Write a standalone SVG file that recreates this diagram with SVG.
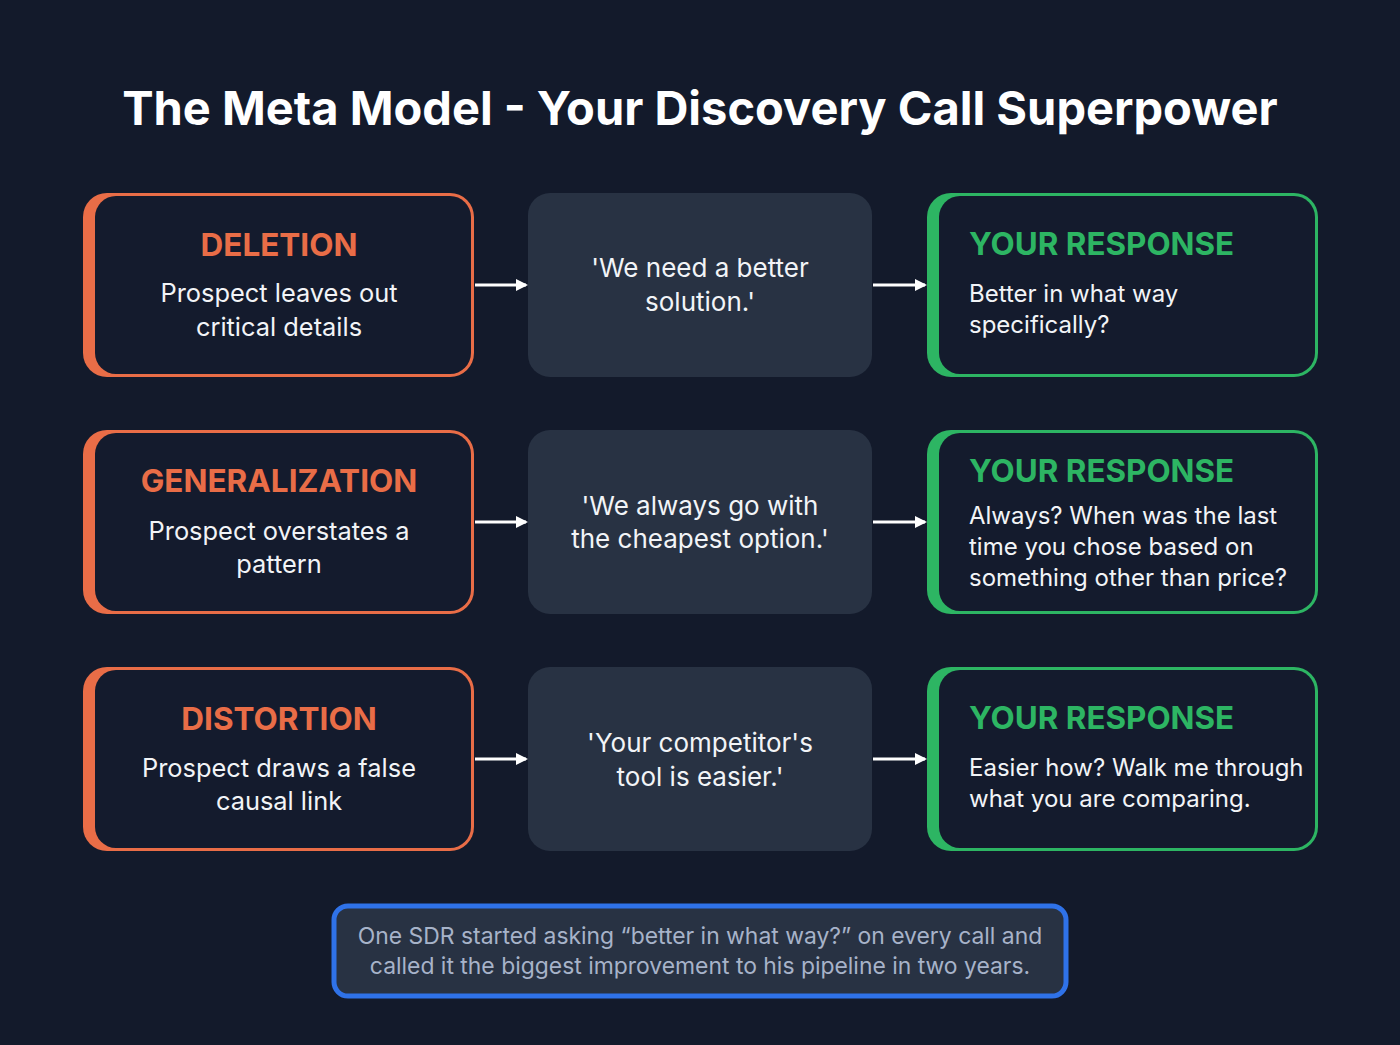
<svg xmlns="http://www.w3.org/2000/svg" width="1400" height="1045" viewBox="0 0 1400 1045">
<defs>
<marker id="ah" markerWidth="12" markerHeight="12" refX="10" refY="6" orient="auto" markerUnits="userSpaceOnUse">
<path d="M0,0 L12,6 L0,12 Z" fill="#ffffff"/>
</marker>
<style>
.bg{fill:#131a2b}
.inner{fill:#141b2d}
.org{fill:#e96d47}
.grn{fill:#2db563}
.mid{fill:#283243}
.title{font-family:Inter,"Liberation Sans",sans-serif;font-weight:700;font-size:47px;fill:#ffffff}
.hO{font-family:Inter,"Liberation Sans",sans-serif;font-weight:700;font-size:31.5px;fill:#e96d47}
.hG{font-family:Inter,"Liberation Sans",sans-serif;font-weight:700;font-size:31.4px;fill:#2db563}
.body{font-family:Inter,"Liberation Sans",sans-serif;font-size:25.4px;fill:#f2f4f7}
.bodyR{font-family:Inter,"Liberation Sans",sans-serif;font-size:24px;fill:#f2f4f7}
.q{font-family:Inter,"Liberation Sans",sans-serif;font-size:26px;fill:#f2f4f7}
.note{font-family:Inter,"Liberation Sans",sans-serif;font-size:22.9px;fill:#a7b3c9}
.arr{stroke:#ffffff;stroke-width:3;fill:none}
</style>
</defs>
<rect class="bg" x="0" y="0" width="1400" height="1045"/>
<text class="title" x="700" y="125" text-anchor="middle">The Meta Model - Your Discovery Call Superpower</text>

<g id="deletion">
<rect class="org" x="83" y="193" width="391" height="184" rx="24"/>
<rect class="inner" x="95" y="196" width="376" height="178" rx="21"/>
<text class="hO" x="279" y="256" text-anchor="middle">DELETION</text>
<text class="body" x="279" y="302" text-anchor="middle">Prospect leaves out</text>
<text class="body" x="279" y="336" text-anchor="middle">critical details</text>
</g>
<g id="quote1">
<rect class="mid" x="528" y="193" width="344" height="184" rx="22"/>
<text class="q" x="700" y="277" text-anchor="middle">'We need a better</text>
<text class="q" x="700" y="311" text-anchor="middle">solution.'</text>
</g>
<g id="response1">
<rect class="grn" x="927" y="193" width="391" height="184" rx="24"/>
<rect class="inner" x="939" y="196" width="376" height="178" rx="21"/>
<text class="hG" x="969" y="255">YOUR RESPONSE</text>
<text class="bodyR" x="969" y="302">Better in what way</text>
<text class="bodyR" x="969" y="333">specifically?</text>
</g>

<g id="generalization">
<rect class="org" x="83" y="430" width="391" height="184" rx="24"/>
<rect class="inner" x="95" y="433" width="376" height="178" rx="21"/>
<text class="hO" x="279" y="492" text-anchor="middle">GENERALIZATION</text>
<text class="body" x="279" y="540" text-anchor="middle">Prospect overstates a</text>
<text class="body" x="279" y="573" text-anchor="middle">pattern</text>
</g>
<g id="quote2">
<rect class="mid" x="528" y="430" width="344" height="184" rx="22"/>
<text class="q" x="700" y="515" text-anchor="middle">'We always go with</text>
<text class="q" x="700" y="548" text-anchor="middle">the cheapest option.'</text>
</g>
<g id="response2">
<rect class="grn" x="927" y="430" width="391" height="184" rx="24"/>
<rect class="inner" x="939" y="433" width="376" height="178" rx="21"/>
<text class="hG" x="969" y="482">YOUR RESPONSE</text>
<text class="bodyR" x="969" y="524">Always? When was the last</text>
<text class="bodyR" x="969" y="555">time you chose based on</text>
<text class="bodyR" x="969" y="586">something other than price?</text>
</g>

<g id="distortion">
<rect class="org" x="83" y="667" width="391" height="184" rx="24"/>
<rect class="inner" x="95" y="670" width="376" height="178" rx="21"/>
<text class="hO" x="279" y="730" text-anchor="middle">DISTORTION</text>
<text class="body" x="279" y="777" text-anchor="middle">Prospect draws a false</text>
<text class="body" x="279" y="810" text-anchor="middle">causal link</text>
</g>
<g id="quote3">
<rect class="mid" x="528" y="667" width="344" height="184" rx="22"/>
<text class="q" x="700" y="752" text-anchor="middle">'Your competitor's</text>
<text class="q" x="700" y="786" text-anchor="middle">tool is easier.'</text>
</g>
<g id="response3">
<rect class="grn" x="927" y="667" width="391" height="184" rx="24"/>
<rect class="inner" x="939" y="670" width="376" height="178" rx="21"/>
<text class="hG" x="969" y="729">YOUR RESPONSE</text>
<text class="bodyR" x="969" y="776">Easier how? Walk me through</text>
<text class="bodyR" x="969" y="807">what you are comparing.</text>
</g>

<g id="connectors">
<line class="arr" x1="475" y1="285" x2="526" y2="285" marker-end="url(#ah)"/>
<line class="arr" x1="873" y1="285" x2="925" y2="285" marker-end="url(#ah)"/>
<line class="arr" x1="475" y1="522" x2="526" y2="522" marker-end="url(#ah)"/>
<line class="arr" x1="873" y1="522" x2="925" y2="522" marker-end="url(#ah)"/>
<line class="arr" x1="475" y1="759" x2="526" y2="759" marker-end="url(#ah)"/>
<line class="arr" x1="873" y1="759" x2="925" y2="759" marker-end="url(#ah)"/>
</g>

<g id="note">
<rect x="334" y="906" width="732" height="90" rx="14" fill="#283243" stroke="#2f72e8" stroke-width="5"/>
<text class="note" x="700" y="944" text-anchor="middle">One SDR started asking “better in what way?” on every call and</text>
<text class="note" x="700" y="974" text-anchor="middle">called it the biggest improvement to his pipeline in two years.</text>
</g>
</svg>
